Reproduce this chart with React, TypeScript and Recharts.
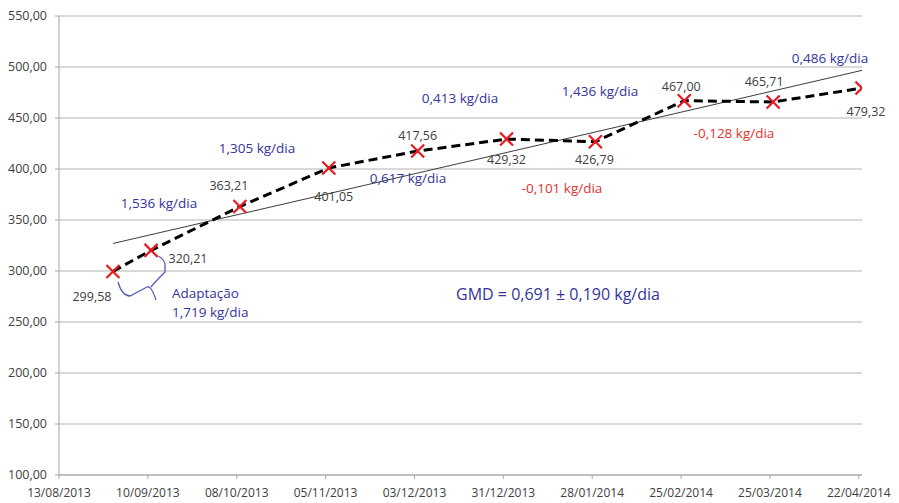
import React from 'react';
import { ComposedChart, Line, XAxis, YAxis, CartesianGrid, LabelList } from 'recharts';

// ---- data ----
const weighDates = ['30/08/2013', '11/09/2013', '09/10/2013', '06/11/2013', '04/12/2013', '01/01/2014', '29/01/2014', '26/02/2014', '26/03/2014', '23/04/2014'];
const weights = [299.58, 320.21, 363.21, 401.05, 417.56, 429.32, 426.79, 467.0, 465.71, 479.32];
const trendDates = ['30/08/2013', '23/04/2014'];
const trendValues = [327.0, 496.7];
const xTickLabels = ['13/08/2013', '10/09/2013', '08/10/2013', '05/11/2013', '03/12/2013', '31/12/2013', '28/01/2014', '25/02/2014', '25/03/2014', '22/04/2014'];
const yTicks = [100, 150, 200, 250, 300, 350, 400, 450, 500, 550];
const rateTexts = ['1,719 kg/dia', '1,536 kg/dia', '1,305 kg/dia', '0,617 kg/dia', '0,413 kg/dia', '-0,101 kg/dia', '1,436 kg/dia', '-0,128 kg/dia', '0,486 kg/dia'];
const gmdText = 'GMD = 0,691 ± 0,190 kg/dia';
const adaptText = 'Adaptação';

// ---- helpers ----
const toDay = (s: string) => {
  const [d, m, y] = s.split('/').map(Number);
  return Date.UTC(y, m - 1, d) / 86400000;
};
const origin = toDay(xTickLabels[0]);
const dayOf = (s: string) => toDay(s) - origin;
const fmtDate = (v: number) => {
  const dt = new Date((v + origin) * 86400000);
  const dd = String(dt.getUTCDate()).padStart(2, '0');
  const mm = String(dt.getUTCMonth() + 1).padStart(2, '0');
  return `${dd}/${mm}/${dt.getUTCFullYear()}`;
};
const fmtNum = (v: number) => v.toFixed(2).replace('.', ',');

const mainData = weighDates.map((d, i) => ({ day: dayOf(d), w: weights[i] }));
const trendData = trendDates.map((d, i) => ({ day: dayOf(d), t: trendValues[i] }));
const xTicks = xTickLabels.map(dayOf);

// ---- layout / styles (not data) ----
const FONT = '"Open Sans", sans-serif';
const BLUE = '#34349c';
const RED = '#e5322d';
const GREY_TXT = '#404040';
const labelOffsets: [number, number][] = [
  [-21, 25], [37, 8], [-11, -21], [5, 29], [0, -16], [0, 20], [-1, 18], [-3, -14], [-9, -20], [4, 23],
];
const ratePos: { x: number; y: number; color: string; anchor: 'start' | 'middle' }[] = [
  { x: 172, y: 312, color: BLUE, anchor: 'start' },
  { x: 159, y: 203, color: BLUE, anchor: 'middle' },
  { x: 257, y: 148, color: BLUE, anchor: 'middle' },
  { x: 408, y: 178, color: BLUE, anchor: 'middle' },
  { x: 460, y: 98, color: BLUE, anchor: 'middle' },
  { x: 562, y: 188, color: RED, anchor: 'middle' },
  { x: 600, y: 91, color: BLUE, anchor: 'middle' },
  { x: 734, y: 133, color: RED, anchor: 'middle' },
  { x: 830, y: 58, color: BLUE, anchor: 'middle' },
];

const XDot = (props: any) => {
  const { cx, cy, index } = props;
  if (cx == null || cy == null) return <g key={`d${index}`} />;
  const s = 6.5;
  return (
    <path
      key={`d${index}`}
      d={`M${cx - s},${cy - s}L${cx + s},${cy + s}M${cx + s},${cy - s}L${cx - s},${cy + s}`}
      stroke="#e8191f"
      strokeWidth={2.2}
      fill="none"
    />
  );
};

const ValueLabel = (props: any) => {
  const { x, y, index, value } = props;
  const [dx, dy] = labelOffsets[index] || [0, 0];
  return (
    <text
      x={x + dx}
      y={y + dy}
      textAnchor="middle"
      dominantBaseline="central"
      fontFamily={FONT}
      fontSize={12.5}
      fill={GREY_TXT}
    >
      {fmtNum(value)}
    </text>
  );
};

export default function App() {
  return (
    <div style={{ position: 'absolute', left: 0, top: 0, width: 899, height: 503, background: '#fff' }}>
      <ComposedChart width={899} height={503} margin={{ top: 16, right: 37, bottom: 0, left: 0 }}>
        <CartesianGrid vertical={false} stroke="#b3b3b3" strokeWidth={1.2} />
        <XAxis
          type="number"
          dataKey="day"
          domain={[0, dayOf('23/04/2014')]}
          ticks={xTicks}
          tickFormatter={fmtDate}
          interval={0}
          allowDataOverflow
          height={28}
          stroke="#a6a6a6"
          tickSize={4}
          tickMargin={9}
          tick={{ fill: GREY_TXT, fontSize: 12, fontFamily: FONT }}
        />
        <YAxis
          type="number"
          domain={[100, 550]}
          ticks={yTicks}
          tickFormatter={fmtNum}
          interval={0}
          width={59}
          stroke="#a6a6a6"
          tickSize={4}
          tickMargin={8}
          tick={{ fill: GREY_TXT, fontSize: 12.5, fontFamily: FONT }}
        />
        <Line
          data={trendData}
          dataKey="t"
          type="linear"
          stroke="#3c3c3c"
          strokeWidth={1}
          dot={false}
          activeDot={false}
          isAnimationActive={false}
        />
        <Line
          data={mainData}
          dataKey="w"
          type="linear"
          stroke="#000"
          strokeWidth={3}
          strokeDasharray="9 5"
          dot={XDot}
          activeDot={false}
          isAnimationActive={false}
        >
          <LabelList dataKey="w" content={ValueLabel} />
        </Line>
      </ComposedChart>
      <svg
        width={899}
        height={503}
        style={{ position: 'absolute', left: 0, top: 0, pointerEvents: 'none' }}
      >
        <path
          d="M118,282 Q122,296 130,296 L147,287 Q151,285 156,300 M151,287 Q154,283 165,272 L165,264 Q164,259 158,256"
          stroke="#5a5ab8"
          strokeWidth={1.3}
          fill="none"
        />
        <text x={172} y={293} dominantBaseline="central" fontFamily={FONT} fontSize={13.5} fill={BLUE}>
          {adaptText}
        </text>
        {rateTexts.map((t, i) => (
          <text
            key={i}
            x={ratePos[i].x}
            y={ratePos[i].y}
            textAnchor={ratePos[i].anchor}
            dominantBaseline="central"
            fontFamily={FONT}
            fontSize={13.5}
            fill={ratePos[i].color}
          >
            {t}
          </text>
        ))}
        <text x={558} y={294} textAnchor="middle" dominantBaseline="central" fontFamily={FONT} fontSize={16} fill={BLUE}>
          {gmdText}
        </text>
      </svg>
    </div>
  );
}
